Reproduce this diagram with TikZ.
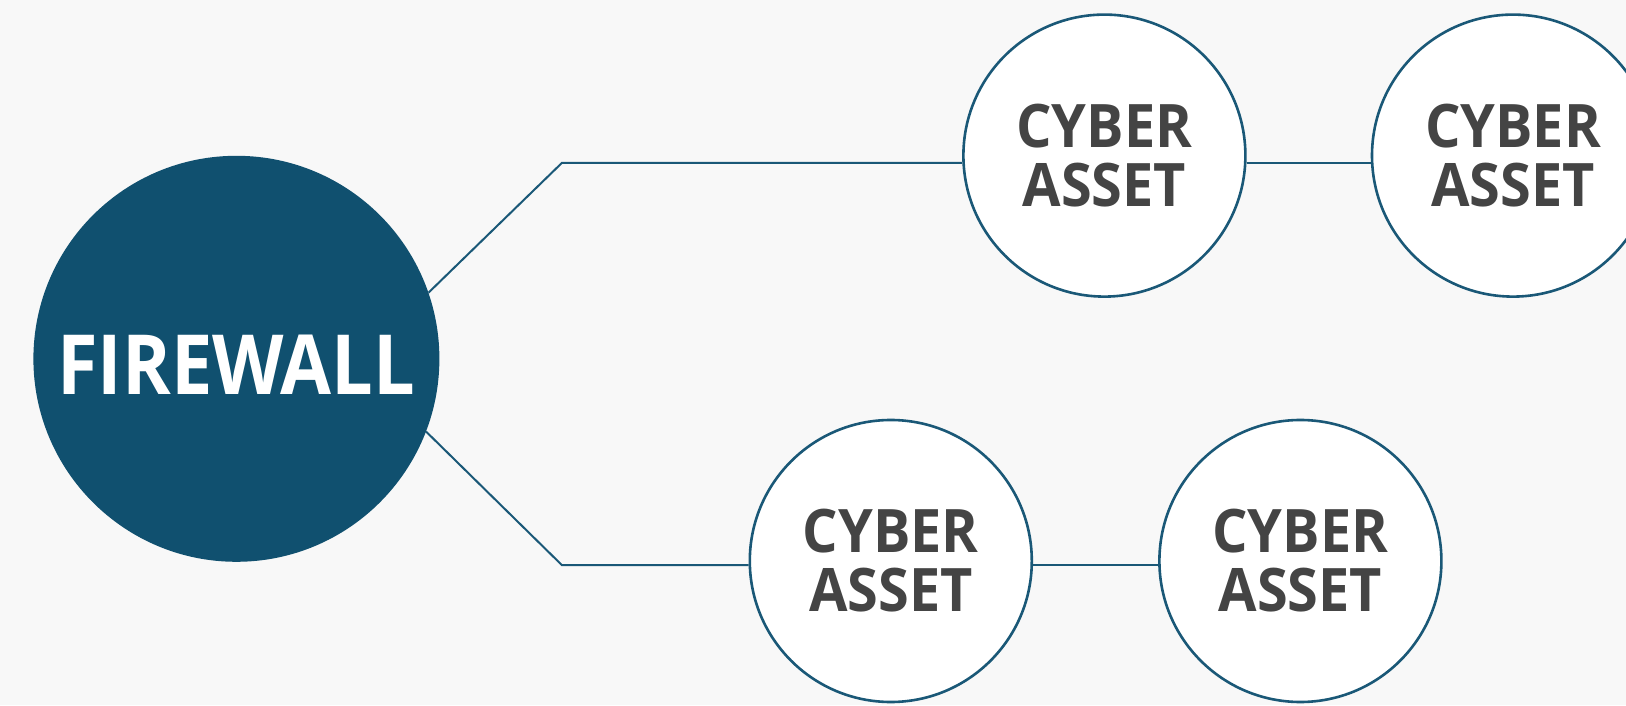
\documentclass[tikz,border=0pt]{standalone}
\usepackage{fontspec}
\setmainfont{Open Sans}
\newfontfamily\fwfont{Open Sans}[FakeStretch=0.89]
\newfontfamily\assetfont{Open Sans}[FakeStretch=0.93]
\definecolor{fwblue}{HTML}{10506F}
\definecolor{rimblue}{HTML}{1A5877}
\definecolor{assettext}{HTML}{444444}
\definecolor{backdrop}{HTML}{F8F8F8}

\begin{document}
\begin{tikzpicture}
            [x=1pt, y=1pt,
             fwnode/.style={circle, fill=fwblue, minimum size=406pt, inner sep=0pt,
                            text height=71pt, text depth=0pt,
                            text=white, font=\fwfont\fontsize{83}{83}\selectfont\bfseries},
             assetnode/.style={circle, draw=rimblue, line width=2.6pt, fill=white,
                               minimum size=282pt, inner sep=0pt, align=center, text=assettext,
                               font=\assetfont\fontsize{60}{59}\selectfont\bfseries},
             link/.style={draw=rimblue, line width=2pt}]
            % Draw the background
            \fill[backdrop] (0,0) rectangle (1626,705);
            \useasboundingbox (0,0) rectangle (1626,705);

            % Place the circles
            \node[fwnode] (fw) at (236.4, 346.2) {FIREWALL};
            \node[assetnode] (assetA) at (1104.4, 549.4) {CYBER\\ASSET};  % Upper left
            \node[assetnode] (assetB) at (1513, 549.4) {CYBER\\ASSET};    % Upper right
            \node[assetnode] (assetC) at (890.8, 144) {CYBER\\ASSET};     % Lower left
            \node[assetnode] (assetD) at (1300.4, 144) {CYBER\\ASSET};    % Lower right

            % Bends of the links
            \coordinate (bendA) at (562, 542.2);  % Upper bend
            \coordinate (bendB) at (562, 139.8);  % Lower bend

            % Draw the links
            \draw[link] (fw.19) -- (bendA) -- (bendA -| assetA.west);
            \draw[link] (assetA.east |- bendA) -- (assetB.west |- bendA);
            \draw[link] (fw.-21.6) -- (bendB) -- (bendB -| assetC.west);
            \draw[link] (assetC.east |- bendB) -- (assetD.west |- bendB);
        \end{tikzpicture}
\end{document}
